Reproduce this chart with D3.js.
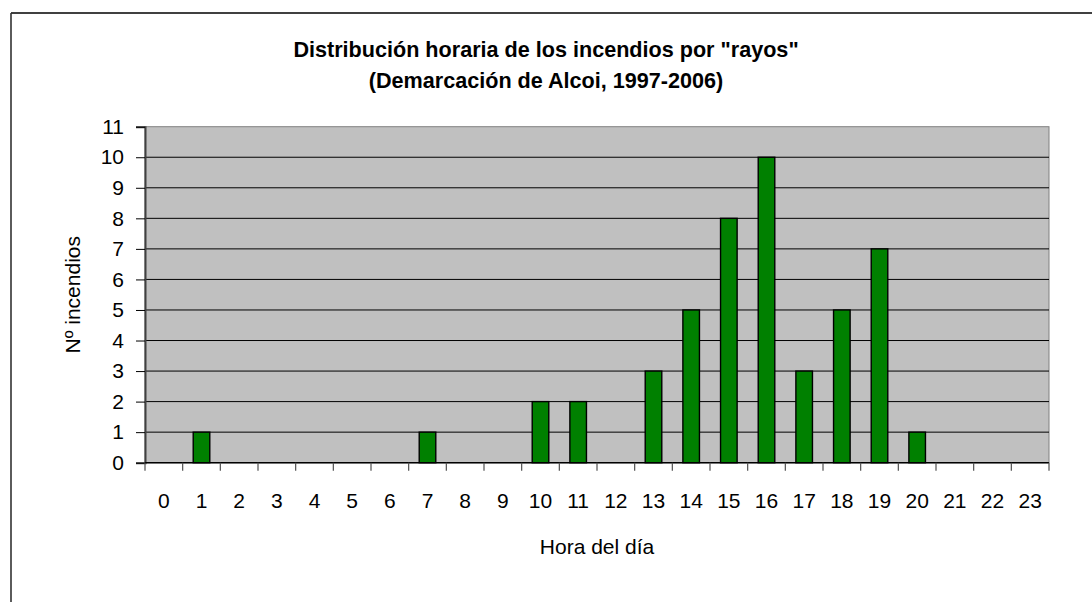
<!DOCTYPE html>
<html>
<head>
<meta charset="utf-8">
<script src="https://cdn.jsdelivr.net/npm/d3@7"></script>
<style>
html,body{margin:0;padding:0;background:#fff;}
svg{display:block;font-family:"Liberation Sans",Arial,sans-serif;}
</style>
</head>
<body>
<svg id="chart" width="1092" height="602"></svg>
<script>
const hours = ["0","1","2","3","4","5","6","7","8","9","10","11","12","13","14","15","16","17","18","19","20","21","22","23"];
const incendios = [0,1,0,0,0,0,0,1,0,0,2,2,0,3,5,8,10,3,5,7,1,0,0,0];
const yTicks = [0,1,2,3,4,5,6,7,8,9,10,11];
const titleLines = ["Distribución horaria de los incendios por \"rayos\"", "(Demarcación de Alcoi, 1997-2006)"];
const xTitle = "Hora del día";
const yTitle = "Nº incendios";

const svg = d3.select("#chart");
const L = 145, R = 1049, T = 126.7, B = 462.7;

// outer chart border (partially outside view)
svg.append("line").attr("x1",11).attr("x2",1092).attr("y1",13).attr("y2",13).attr("stroke","#000").attr("stroke-width",1.5);
svg.append("line").attr("x1",11).attr("x2",11).attr("y1",13).attr("y2",602).attr("stroke","#333").attr("stroke-width",1.6);

const x = d3.scaleBand().domain(hours).range([L,R]).padding(0);
const y = d3.scaleLinear().domain([0,11]).range([B,T]);

// plot background
svg.append("rect").attr("x",L).attr("y",T).attr("width",R-L).attr("height",B-T)
  .attr("fill","#C0C0C0").attr("stroke","#808080").attr("stroke-width",1);

// gridlines
svg.append("g").selectAll("line").data(yTicks.filter(d=>d>0 && d<11)).join("line")
  .attr("x1",L).attr("x2",R).attr("y1",d=>y(d)).attr("y2",d=>y(d))
  .attr("stroke","#000").attr("stroke-width",1);

// bars
const bw = x.bandwidth()*0.44;
const barData = incendios.map((v,i)=>({h:hours[i],v})).filter(d=>d.v>0);
svg.append("g").selectAll("rect").data(barData).join("rect")
  .attr("x",d=>x(d.h)+x.bandwidth()/2-bw/2)
  .attr("y",d=>y(d.v))
  .attr("width",bw)
  .attr("height",d=>y(0)-y(d.v))
  .attr("fill","#008000").attr("stroke","#000").attr("stroke-width",1.4);

// y axis
const yAxis = d3.axisLeft(y).tickValues(yTicks).tickSize(9).tickPadding(12).tickFormat(d3.format("d"));
const gy = svg.append("g").attr("transform",`translate(${L},0)`).call(yAxis);
gy.select(".domain").attr("stroke","#404040").attr("stroke-width",2);
gy.selectAll(".tick line").attr("stroke","#000");
gy.selectAll(".tick text").attr("font-size","21px").attr("fill","#000").attr("font-family","Liberation Sans, Arial, sans-serif");

// x axis: ticks at category boundaries
const xBound = d3.scaleLinear().domain([0,24]).range([L,R]);
const gx = svg.append("g").attr("transform",`translate(0,${B})`);
gx.append("line").attr("x1",L).attr("x2",R).attr("y1",0).attr("y2",0).attr("stroke","#000").attr("stroke-width",1.5);
gx.selectAll("line.tk").data(d3.range(25)).join("line").attr("class","tk")
  .attr("x1",d=>xBound(d)).attr("x2",d=>xBound(d)).attr("y1",0).attr("y2",8)
  .attr("stroke","#505050").attr("stroke-width",1.2);
gx.selectAll("text").data(hours).join("text")
  .attr("x",d=>x(d)+x.bandwidth()/2).attr("y",45.5)
  .attr("text-anchor","middle").attr("font-size","21px").attr("fill","#000")
  .text(d=>d);

// titles
svg.append("g").selectAll("text").data(titleLines).join("text")
  .attr("x",546).attr("y",(d,i)=>57+i*31)
  .attr("text-anchor","middle").attr("font-size","21.6px").attr("font-weight","bold").attr("fill","#000")
  .text(d=>d);

svg.append("text").attr("x",(L+R)/2).attr("y",554).attr("text-anchor","middle")
  .attr("font-size","21px").attr("fill","#000").text(xTitle);

svg.append("text").attr("transform",`translate(80,${(T+B)/2}) rotate(-90)`).attr("text-anchor","middle")
  .attr("font-size","21px").attr("fill","#000").text(yTitle);
</script>
</body>
</html>
